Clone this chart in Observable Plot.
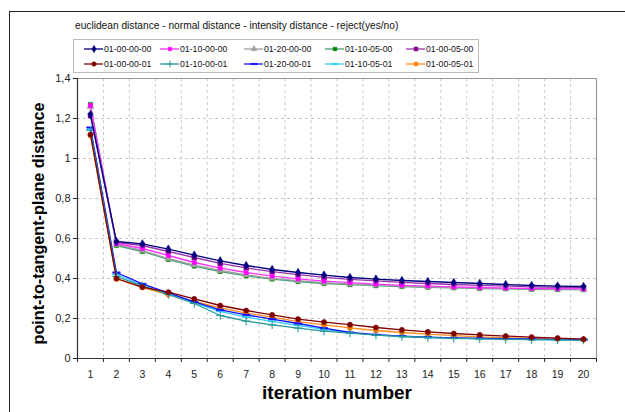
<!DOCTYPE html>
<html><head><meta charset="utf-8">
<script src="https://cdn.jsdelivr.net/npm/d3@7"></script>
<script src="https://cdn.jsdelivr.net/npm/@observablehq/plot@0.6"></script>
<style>
html,body{margin:0;padding:0;background:#fff;}
#wrap{position:relative;width:625px;height:412px;overflow:hidden;font-family:"Liberation Sans",Arial,sans-serif;}
#frame{position:absolute;left:9px;top:11px;width:700px;height:500px;border-left:1.5px solid #222;border-top:1.5px solid #222;}
#title{position:absolute;left:75px;top:20px;font-size:10.2px;color:#111;white-space:nowrap;}
#legend{position:absolute;left:73px;top:39px;width:404px;height:32px;border:1px solid #bbb;background:#fff;}
.item{position:absolute;font-size:8.7px;color:#111;white-space:nowrap;display:flex;align-items:center;}
.item svg{margin-right:1px;}
#plot{position:absolute;left:0;top:0;}
</style></head>
<body><div id="wrap"><div id="frame"></div><div id="plot"></div><div id="title"></div><div id="legend"></div></div>
<script>
const iterations = [1,2,3,4,5,6,7,8,9,10,11,12,13,14,15,16,17,18,19,20];
const seriesNames = ["01-00-00-00","01-10-00-00","01-20-00-00","01-10-05-00","01-00-05-00",
                     "01-00-00-01","01-10-00-01","01-20-00-01","01-10-05-01","01-00-05-01"];
const s_01_00_00_00 = [1.22,0.585,0.573,0.547,0.517,0.488,0.465,0.445,0.430,0.417,0.405,0.397,0.390,0.385,0.380,0.375,0.370,0.365,0.362,0.360];
const s_01_10_00_00 = [1.265,0.575,0.550,0.515,0.480,0.452,0.430,0.412,0.398,0.387,0.379,0.372,0.366,0.362,0.358,0.355,0.352,0.350,0.349,0.348];
const s_01_20_00_00 = [1.26,0.570,0.540,0.500,0.467,0.440,0.418,0.401,0.389,0.379,0.373,0.367,0.362,0.358,0.355,0.352,0.350,0.348,0.347,0.346];
const s_01_10_05_00 = [1.27,0.565,0.535,0.495,0.462,0.435,0.413,0.397,0.385,0.375,0.369,0.364,0.360,0.356,0.353,0.350,0.348,0.346,0.345,0.344];
const s_01_00_05_00 = [1.215,0.580,0.565,0.535,0.505,0.476,0.453,0.434,0.419,0.406,0.396,0.388,0.381,0.375,0.370,0.366,0.362,0.358,0.356,0.354];
const s_01_00_00_01 = [1.12,0.400,0.357,0.332,0.298,0.265,0.240,0.218,0.197,0.182,0.169,0.155,0.143,0.133,0.125,0.118,0.112,0.107,0.102,0.097];
const s_01_10_00_01 = [1.14,0.410,0.363,0.320,0.275,0.215,0.187,0.168,0.152,0.137,0.127,0.117,0.110,0.105,0.101,0.098,0.096,0.094,0.093,0.092];
const s_01_20_00_01 = [1.155,0.430,0.373,0.328,0.283,0.243,0.218,0.197,0.175,0.152,0.130,0.119,0.112,0.107,0.103,0.101,0.099,0.097,0.096,0.095];
const s_01_10_05_01 = [1.145,0.420,0.366,0.322,0.278,0.236,0.207,0.186,0.166,0.146,0.128,0.118,0.110,0.105,0.102,0.100,0.097,0.095,0.093,0.092];
const s_01_00_05_01 = [1.115,0.398,0.355,0.320,0.285,0.253,0.227,0.207,0.184,0.168,0.153,0.140,0.130,0.122,0.114,0.108,0.103,0.100,0.097,0.094];
const seriesValues = [s_01_00_00_00,s_01_10_00_00,s_01_20_00_00,s_01_10_05_00,s_01_00_05_00,
                      s_01_00_00_01,s_01_10_00_01,s_01_20_00_01,s_01_10_05_01,s_01_00_05_01];
const yTicks = [0,0.2,0.4,0.6,0.8,1,1.2,1.4];
const titleText = "euclidean distance - normal distance - intensity distance - reject(yes/no)";
const yLabel = "point-to-tangent-plane distance";
const xLabel = "iteration number";

const lineColors  = ["#000080","#ff33ff","#a0a0a0","#40a070","#9933aa","#800000","#2a9a9a","#1010ff","#33ccff","#ff8c1a"];
const markColors  = ["#000080","#ff00ff","#a0a0a0","#008000","#800080","#800000","#2a9a9a","#1010ff","#33ccff","#ff8000"];
const dash = {draw(ctx,size){const w=Math.sqrt(size)*0.9; ctx.moveTo(-w,-0.7);ctx.lineTo(w,-0.7);ctx.lineTo(w,0.7);ctx.lineTo(-w,0.7);ctx.closePath();}};
const xsq = {draw(ctx,size){const w=Math.sqrt(size)/2; ctx.moveTo(-w,-w);ctx.lineTo(w,-w);ctx.lineTo(w,w);ctx.lineTo(-w,w);ctx.closePath();
  ctx.moveTo(-w,-w);ctx.lineTo(w,w);ctx.moveTo(w,-w);ctx.lineTo(-w,w);}};
const symbols = ["diamond","square","triangle","square",xsq,"circle","plus",dash,dash,"circle"];
const symR = [2.6,2.3,2.6,2.4,2.4,2.6,2.8,2.4,2.4,2.6];

const rows = [];
seriesNames.forEach((name,si)=>{
  iterations.forEach((it,i)=>rows.push({series:name,si,x:it,y:seriesValues[si][i]}));
});
const boundaries = d3.range(0.5,20.6,1);
const inner = boundaries.slice(1,-1);
const fmt = d => (+d.toFixed(1)).toString().replace(".",",");

const marks = [
  Plot.ruleY(yTicks.filter(d=>d>0 && d<1.4),{stroke:"#bbb",strokeDasharray:"3,3",strokeWidth:0.8}),
  Plot.ruleX(inner,{stroke:"#bbb",strokeDasharray:"3,3",strokeWidth:0.8}),
  Plot.ruleY([1.4],{stroke:"#999",strokeWidth:1.2}),
  Plot.ruleX([20.5],{stroke:"#999",strokeWidth:1.2}),
  Plot.axisY({ticks:yTicks,tickFormat:fmt,tickSize:4,fontSize:11,label:null,tickPadding:3}),
  Plot.axisX({ticks:boundaries,tickFormat:()=>"",tickSize:4,label:null}),
  Plot.axisX({ticks:iterations,tickFormat:d=>String(d),tickSize:0,tickPadding:12,fontSize:10.5,label:null}),
];
for (let si=seriesNames.length-1; si>=0; si--) {
  const data = rows.filter(r=>r.si===si);
  marks.push(Plot.line(data,{x:"x",y:"y",stroke:lineColors[si],strokeWidth:1.3}));
  const sym = symbols[si];
  const isX = sym===xsq, isPlus = sym==="plus";
  marks.push(Plot.dot(data,{x:"x",y:"y",symbol:()=>sym,r:symR[si],
    fill: isPlus ? "none" : (isX ? "#cc33cc" : markColors[si]),
    stroke: markColors[si], strokeWidth: isPlus||isX ? 1.1 : 0.5}));
}
marks.push(Plot.ruleX([0.5],{stroke:"#333",strokeWidth:1.2}));
marks.push(Plot.ruleY([0],{stroke:"#333",strokeWidth:1.2}));
marks.push(Plot.text([yLabel],{text:d=>d,frameAnchor:"left",y:()=>0.675,textAnchor:"middle",dx:-39,rotate:-90,fontSize:16.2,fontWeight:"bold",fill:"#000"}));
marks.push(Plot.text([xLabel],{text:d=>d,frameAnchor:"bottom",dy:40,fontSize:19,fontWeight:"bold",fill:"#000"}));

const chart = Plot.plot({
  width:625,height:412,
  marginLeft:77,marginRight:29,marginTop:78,marginBottom:54,
  style:{background:"transparent",fontFamily:"'Liberation Sans',Arial,sans-serif",color:"#222",overflow:"visible"},
  x:{type:"linear",domain:[0.5,20.5]},
  y:{domain:[0,1.4]},
  symbol:{type:"identity"},
  marks
});
document.getElementById("plot").appendChild(chart);
document.getElementById("title").textContent = titleText;

const legend = document.getElementById("legend");
const colX = [10,86,170,251,332];
seriesNames.forEach((name,si)=>{
  const col = si%5, row = Math.floor(si/5);
  const div = document.createElement("div");
  div.className="item";
  div.style.left = colX[col]+"px";
  div.style.top = (row===0?3:18)+"px";
  const sym = symbols[si];
  const isX = sym===xsq, isPlus = sym==="plus";
  const sw = Plot.plot({width:19,height:11,margin:0,x:{domain:[0,1],axis:null},y:{domain:[0,1],axis:null},symbol:{type:"identity"},
    style:{background:"transparent",overflow:"visible"},
    marks:[Plot.ruleY([0.5],{x1:0,x2:1,stroke:lineColors[si],strokeWidth:1.3}),
           Plot.dot([0.5],{x:d=>d,y:d=>d,symbol:()=>sym,r:symR[si]*0.85,
             fill: isPlus?"none":(isX?"#cc33cc":markColors[si]),stroke:markColors[si],strokeWidth:isPlus||isX?1.0:0.5})]});
  div.appendChild(sw);
  const span=document.createElement("span"); span.textContent=name; div.appendChild(span);
  legend.appendChild(div);
});
</script></body></html>
